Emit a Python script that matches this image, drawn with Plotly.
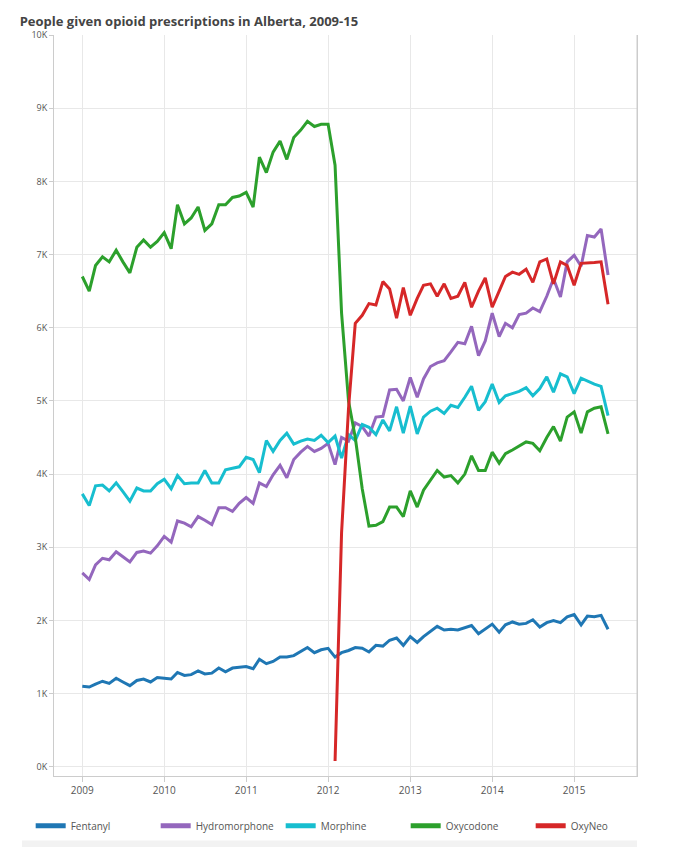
import plotly.graph_objects as go
import pandas as pd

dates = pd.date_range("2009-01-01", periods=78, freq="MS")

fentanyl = [1100,1090,1130,1170,1140,1210,1160,1110,1180,1200,1160,1220,
            1210,1200,1290,1250,1260,1310,1270,1280,1350,1300,1350,1360,
            1370,1340,1470,1410,1440,1500,1500,1520,1580,1630,1560,1600,
            1620,1500,1560,1590,1630,1620,1570,1660,1650,1730,1760,1660,
            1780,1700,1780,1850,1920,1870,1880,1870,1900,1930,1820,1880,
            1950,1840,1940,1980,1950,1960,2010,1910,1970,2000,1970,2050,
            2080,1940,2060,2050,2070,1880]
hydromorphone = [2650,2560,2760,2850,2830,2940,2870,2800,2930,2950,2920,3020,
                 3150,3070,3360,3330,3280,3420,3370,3310,3540,3540,3490,3600,
                 3680,3600,3880,3830,3990,4120,3950,4200,4300,4380,4310,4350,
                 4420,4130,4500,4450,4700,4650,4520,4780,4790,5150,5160,5000,
                 5320,5050,5300,5470,5520,5550,5670,5800,5780,6020,5620,5820,
                 6200,5880,6060,6000,6180,6200,6270,6220,6430,6670,6420,6900,
                 6990,6840,7260,7240,7350,6720]
morphine = [3730,3570,3840,3850,3770,3880,3760,3630,3810,3770,3770,3870,
            3930,3800,3980,3870,3880,3880,4050,3880,3880,4060,4080,4100,
            4230,4200,4020,4460,4310,4460,4560,4410,4450,4480,4460,4530,
            4430,4520,4220,4540,4460,4680,4640,4540,4740,4590,4920,4560,
            4930,4550,4780,4860,4900,4830,4940,4910,5050,5200,4870,4990,
            5230,4980,5070,5100,5130,5180,5070,5170,5330,5120,5370,5330,
            5100,5310,5270,5230,5200,4800]
oxycodone = [6700,6500,6850,6970,6900,7060,6900,6750,7100,7200,7100,7180,
             7300,7080,7680,7420,7500,7650,7330,7420,7680,7680,7780,7800,
             7850,7650,8330,8120,8400,8550,8300,8600,8700,8820,8750,8780,
             8780,8220,6200,5000,4500,3800,3290,3300,3350,3550,3550,3420,
             3770,3550,3780,3920,4050,3960,3980,3880,4000,4250,4050,4050,
             4300,4150,4280,4330,4380,4440,4420,4320,4500,4650,4450,4780,
             4850,4560,4850,4900,4920,4550]
oxyneo = [None]*37 + [80,3200,4900,6060,6170,6330,6310,6630,6530,6130,6550,
          6170,6400,6580,6600,6430,6600,6400,6430,6620,6280,6500,6680,
          6280,6500,6700,6760,6730,6800,6620,6900,6940,6600,6900,6850,
          6580,6880,6880,6890,6900,6320]

series = [("Fentanyl", fentanyl, "#1f77b4"), ("Hydromorphone", hydromorphone, "#9467bd"),
          ("Morphine", morphine, "#17becf"), ("Oxycodone", oxycodone, "#2ca02c"),
          ("OxyNeo", oxyneo, "#d62728")]

fig = go.Figure()
for name, vals, col in series:
    fig.add_trace(go.Scatter(x=dates, y=vals, name=name, mode="lines",
                             line=dict(color=col, width=3)))

font = "Open Sans, DejaVu Sans, sans-serif"
fig.update_layout(
    width=687, height=847,
    margin=dict(l=46, r=58, t=27, b=79),
    plot_bgcolor="white", paper_bgcolor="white",
    font=dict(family=font, size=10, color="#555"),
    title=dict(text="<b>People given opioid prescriptions in Alberta, 2009-15</b>",
               x=0.017, xanchor="left", y=0.99, yanchor="top",
               font=dict(size=13, color="#444", family=font)),
    xaxis=dict(range=["2008-08-28", "2015-10-08"], tickvals=[f"{y}-01-01" for y in range(2009, 2016)],
               ticktext=[str(y) for y in range(2009, 2016)], showgrid=True, gridcolor="#e8e8e8",
               showline=True, linecolor="#ccc", mirror=False, ticks="outside", ticklen=5, tickcolor="#ccc",
               tickfont=dict(size=10, color="#555")),
    yaxis=dict(range=[-125, 10000], tickvals=list(range(0, 10001, 1000)),
               ticktext=[f"{i}K" for i in range(11)], showgrid=True, gridcolor="#e8e8e8",
               showline=True, linecolor="#ccc", mirror=True, ticks="outside", ticklen=4, tickcolor="#ccc",
               zeroline=False, tickfont=dict(size=9, color="#555")),
    legend=dict(orientation="h", x=-0.04, xanchor="left", y=-0.067, yanchor="middle",
                entrywidth=80, entrywidthmode="pixels", font=dict(size=10, color="#555"),
                itemsizing="constant", traceorder="normal"),
    showlegend=True,
    shapes=[dict(type="line", xref="paper", yref="paper", x0=1, x1=1, y0=0, y1=1,
                 line=dict(color="#ccc", width=1)),
            dict(type="rect", xref="paper", yref="paper", x0=-0.055, x1=1.0,
                 y0=-0.087, y1=-0.111, fillcolor="#f2f2f2", line=dict(width=0), layer="below")],
)
fig.write_html("out.html")
